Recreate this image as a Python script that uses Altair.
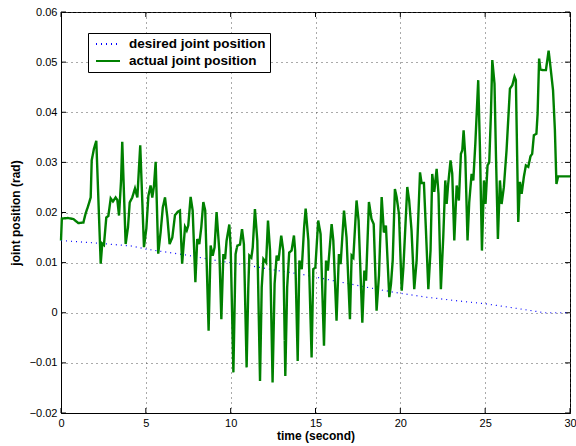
import altair as alt
import pandas as pd

# ---- data ----
t_actual = [0.00, 0.05, 0.40, 0.73, 1.02, 1.32, 1.45, 1.61, 1.75, 1.81, 1.94, 2.08, 2.34, 2.43, 2.53, 2.67,
            2.79, 2.93, 3.06, 3.22, 3.32, 3.42, 3.54, 3.61, 3.81, 3.95, 4.05, 4.20, 4.36, 4.50, 4.67, 4.89,
            5.03, 5.15, 5.28, 5.38, 5.48, 5.58, 5.73, 5.87, 6.00, 6.13, 6.27, 6.40, 6.56, 6.72, 6.90, 7.01,
            7.14, 7.31, 7.41, 7.50, 7.64, 7.76, 7.92, 8.03, 8.15, 8.27, 8.39, 8.50, 8.70, 8.82, 8.94, 9.05,
            9.17, 9.33, 9.45, 9.57, 9.67, 9.76, 9.92, 10.00, 10.16, 10.29, 10.39, 10.55, 10.67, 10.78, 10.94,
            11.04, 11.10, 11.22, 11.30, 11.43, 11.57, 11.73, 11.83, 11.93, 12.09, 12.20, 12.32, 12.47, 12.59,
            12.71, 12.82, 12.98, 13.10, 13.22, 13.33, 13.45, 13.59, 13.73, 13.80, 13.95, 14.05, 14.19, 14.33,
            14.42, 14.58, 14.77, 14.87, 14.99, 15.16, 15.30, 15.50, 15.62, 15.73, 15.95, 16.05, 16.24, 16.38,
            16.48, 16.68, 16.83, 17.03, 17.13, 17.23, 17.42, 17.54, 17.76, 17.88, 17.98, 18.15, 18.30, 18.43,
            18.60, 18.74, 18.90, 19.03, 19.15, 19.35, 19.45, 19.55, 19.68, 19.78, 19.92, 20.08, 20.18, 20.41,
            20.52, 20.66, 20.82, 20.96, 21.16, 21.25, 21.39, 21.51, 21.65, 21.78, 21.88, 22.00, 22.14, 22.25,
            22.39, 22.53, 22.65, 22.73, 22.82, 22.96, 23.06, 23.18, 23.32, 23.45, 23.57, 23.65, 23.73, 23.83,
            23.96, 24.06, 24.20, 24.30, 24.42, 24.59, 24.69, 24.81, 24.93, 25.02, 25.14, 25.24, 25.34, 25.42,
            25.55, 25.63, 25.75, 25.87, 25.97, 26.10, 26.26, 26.46, 26.60, 26.73, 26.81, 26.95, 27.05, 27.15,
            27.28, 27.40, 27.54, 27.67, 27.77, 27.87, 28.02, 28.09, 28.18, 28.26, 28.42, 28.58, 28.74, 28.87,
            29.00, 29.11, 29.20, 29.30, 29.70, 30.00]
v_actual = [0.0144, 0.0188, 0.0189, 0.0187, 0.0179, 0.0180, 0.0198, 0.0214, 0.0230, 0.0304, 0.0327, 0.0343,
            0.0098, 0.0138, 0.0135, 0.0190, 0.0193, 0.0228, 0.0222, 0.0230, 0.0225, 0.0194, 0.0264, 0.0341,
            0.0137, 0.0171, 0.0220, 0.0230, 0.0248, 0.0230, 0.0334, 0.0131, 0.0168, 0.0233, 0.0254, 0.0230,
            0.0253, 0.0301, 0.0118, 0.0160, 0.0210, 0.0230, 0.0190, 0.0137, 0.0150, 0.0195, 0.0202, 0.0204,
            0.0098, 0.0171, 0.0164, 0.0174, 0.0231, 0.0204, 0.0061, 0.0147, 0.0137, 0.0171, 0.0221, 0.0204,
            -0.0036, 0.0134, 0.0114, 0.0130, 0.0201, 0.0124, -0.0013, 0.0117, 0.0107, 0.0144, 0.0176, 0.0130,
            -0.0119, 0.0117, 0.0134, 0.0136, 0.0167, 0.0137, -0.0109, 0.0051, 0.0114, 0.0110, 0.0130, 0.0207,
            0.0144, -0.0136, 0.0051, 0.0107, 0.0100, 0.0184, 0.0124, -0.0139, 0.0058, 0.0114, 0.0104, 0.0154,
            0.0124, -0.0126, 0.0051, 0.0120, 0.0124, 0.0154, 0.0124, -0.0096, 0.0104, 0.0087, 0.0171, 0.0208,
            0.0144, -0.0089, 0.0087, 0.0090, 0.0184, 0.0157, -0.0066, 0.0104, 0.0084, 0.0177, 0.0144, -0.0016,
            0.0117, 0.0097, 0.0204, 0.0150, -0.0013, 0.0114, 0.0110, 0.0224, 0.0184, -0.0020, 0.0084, 0.0064,
            0.0221, 0.0187, 0.0177, 0.0004, 0.0074, 0.0231, 0.0160, 0.0174, 0.0031, 0.0058, 0.0104, 0.0247,
            0.0231, 0.0197, 0.0044, 0.0090, 0.0251, 0.0224, 0.0164, 0.0047, 0.0104, 0.0280, 0.0259, 0.0259,
            0.0164, 0.0047, 0.0124, 0.0277, 0.0241, 0.0287, 0.0237, 0.0047, 0.0151, 0.0264, 0.0217, 0.0257,
            0.0304, 0.0277, 0.0144, 0.0254, 0.0224, 0.0317, 0.0324, 0.0364, 0.0311, 0.0144, 0.0220, 0.0277,
            0.0264, 0.0337, 0.0464, 0.0331, 0.0124, 0.0264, 0.0217, 0.0294, 0.0300, 0.0397, 0.0504, 0.0457,
            0.0324, 0.0147, 0.0264, 0.0217, 0.0250, 0.0324, 0.0447, 0.0454, 0.0471, 0.0464, 0.0181, 0.0261,
            0.0237, 0.0271, 0.0294, 0.0291, 0.0312, 0.0317, 0.0354, 0.0357, 0.0397, 0.0507, 0.0485, 0.0484,
            0.0484, 0.0523, 0.0484, 0.0444, 0.0364, 0.0257, 0.0272, 0.0272, 0.0272]

t_desired = [0.0, 2.1, 4.2, 5.0, 7.4, 9.2, 11.3, 12.8, 14.3, 16.05, 18.0, 19.6, 21.55, 23.3, 25.0, 27.0, 28.5, 30.0]
v_desired = [0.0144, 0.0139, 0.0133, 0.0127, 0.0115, 0.0104, 0.0093, 0.0084, 0.0076, 0.0064, 0.0051, 0.0041,
             0.0031, 0.0024, 0.0018, 0.0008, 0.0000, 0.0000]

x_ticks = [0, 5, 10, 15, 20, 25, 30]
y_ticks = [-0.02, -0.01, 0.0, 0.01, 0.02, 0.03, 0.04, 0.05, 0.06]

series_names = ["desired joint position", "actual joint position"]

df_act = pd.DataFrame({"t": t_actual, "v": v_actual, "series": series_names[1]})
df_des = pd.DataFrame({"t": t_desired, "v": v_desired, "series": series_names[0]})
df_xt = pd.DataFrame({"t": x_ticks})
df_yt = pd.DataFrame({"v": y_ticks})

W, H = 509, 401
FONT = "Liberation Sans"

X = alt.X("t:Q", scale=alt.Scale(domain=[0, 30], nice=False, zero=False),
          axis=alt.Axis(values=x_ticks, title="time (second)", grid=True, gridDash=[1, 4],
                        gridColor="#555", ticks=False, domainColor="black", labelFont=FONT,
                        labelFontSize=11, labelColor="black", labelPadding=4, labelFlush=False,
                        titleFont=FONT, titleFontSize=12, titleFontWeight="bold", titleColor="black",
                        titlePadding=2))
Y = alt.Y("v:Q", scale=alt.Scale(domain=[-0.02, 0.06], nice=False, zero=False),
          axis=alt.Axis(values=y_ticks, title="joint position (rad)", grid=True, gridDash=[1, 4],
                        gridColor="#555", ticks=False, domainColor="black", labelFont=FONT,
                        labelFontSize=11, labelColor="black", labelPadding=4,
                        labelExpr="datum.value == 0 ? '0' : format(datum.value, '.2f')",
                        titleFont=FONT, titleFontSize=12, titleFontWeight="bold", titleColor="black",
                        titlePadding=7))

leg = alt.Legend(title=None, orient="none", legendX=27, legendY=21, strokeColor="black",
                 fillColor="white", padding=4, labelFont=FONT, labelFontSize=13.5,
                 labelFontWeight="bold", labelColor="black", symbolType="M-2,0H2", symbolSize=144,
                 symbolOffset=9, labelOffset=14, rowPadding=3, symbolStrokeWidth=2)

color = alt.Color("series:N", scale=alt.Scale(domain=series_names, range=["#0000ff", "#008000"]), legend=leg)
dash = alt.StrokeDash("series:N", scale=alt.Scale(domain=series_names, range=[[1, 4], [1, 0]]), legend=leg)

desired = alt.Chart(df_des).mark_line(strokeWidth=1.2).encode(x=X, y=Y, color=color, strokeDash=dash)
actual = alt.Chart(df_act).mark_line(strokeWidth=2.4).encode(x=X, y=Y, color=color, strokeDash=dash)

tick_b = alt.Chart(df_xt).mark_rule(color="black").encode(x=X, y=alt.value(H), y2=alt.value(H - 5))
tick_t = alt.Chart(df_xt).mark_rule(color="black").encode(x=X, y=alt.value(0), y2=alt.value(5))
tick_l = alt.Chart(df_yt).mark_rule(color="black").encode(y=Y, x=alt.value(0), x2=alt.value(5))
tick_r = alt.Chart(df_yt).mark_rule(color="black").encode(y=Y, x=alt.value(W), x2=alt.value(W - 5))

chart = alt.layer(tick_b, tick_t, tick_l, tick_r, desired, actual).properties(
    width=W, height=H,
    autosize=alt.AutoSizeParams(type="none"),
    padding={"left": 61, "top": 12, "right": 6, "bottom": 33},
    background="white",
).configure_view(stroke="black", strokeWidth=1)

chart.save("out.html", embed_options={"renderer": "svg", "actions": False})
